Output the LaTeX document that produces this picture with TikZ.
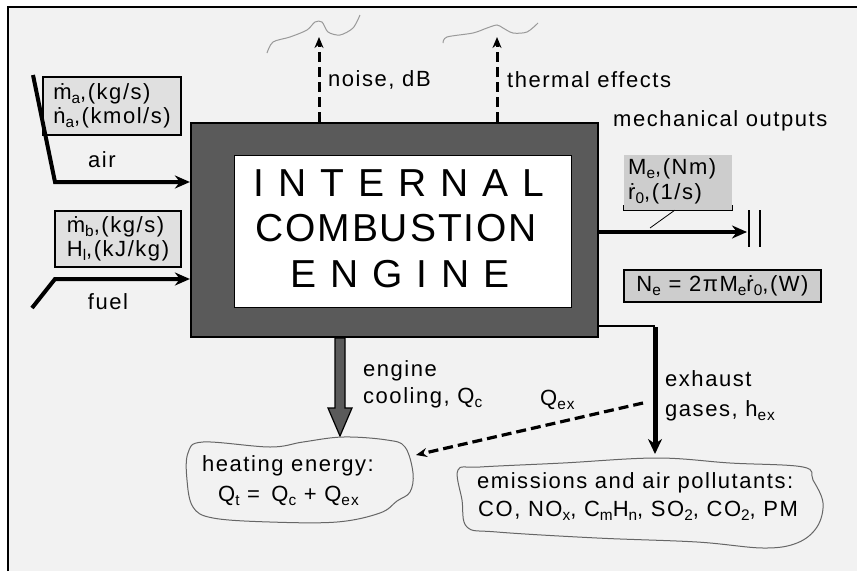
\documentclass[tikz,border=0pt]{standalone}
\usepackage{fontspec}
\setmainfont{Liberation Sans}
\newfontfamily\lblfont[LetterSpace=7]{Liberation Sans}
\newfontfamily\widefont[LetterSpace=36]{Liberation Sans}
\newfontfamily\midfont[LetterSpace=5]{Liberation Sans}
\usetikzlibrary{arrows.meta,calc}
\newcommand\dn[1]{\raisebox{-0.35ex}{\scalebox{0.7}{#1}}}
\definecolor{bggray}{HTML}{F2F2F2}
\definecolor{enggray}{HTML}{5A5A5A}
\definecolor{boxgray}{HTML}{E0E0E0}
\definecolor{shaftgray}{HTML}{CDCDCD}
\definecolor{wavegray}{HTML}{9A9A9A}
\tikzset{
  lbl/.style={font={\lblfont\fontsize{22}{25}\selectfont}, inner sep=0pt, anchor=west},
  bigtxt/.style={font={\widefont\fontsize{39}{40}\selectfont}, inner sep=0pt, anchor=west},
  midtxt/.style={font={\midfont\fontsize{39}{40}\selectfont}, inner sep=0pt, anchor=west},
  databox/.style={draw=black, line width=1.3pt, fill=boxgray, inner sep=0pt, align=left,
     font={\lblfont\fontsize{22}{24}\selectfont}},
  flow/.style={line width=4pt, -{Stealth[length=15pt,width=13pt]}},
  dflow/.style={line width=3pt, dash pattern=on 10pt off 5pt, -{Stealth[length=11pt,width=9pt]}},
  wave/.style={wavegray, line width=1pt},
  cloud/.style={draw=gray!80!black, line width=1pt, fill=bggray}
}
\begin{document}
\begin{tikzpicture}[x=1pt,y=-1pt]
\useasboundingbox (0,0) rectangle (857,571);
\fill[white] (0,0) rectangle (857,571);
\fill[bggray] (8,7) rectangle (857,571);
\draw[line width=2.6pt] (8,571) -- (8,7) -- (857,7);

% engine
\node[draw=black, line width=2.2pt, fill=enggray, minimum width=407pt, minimum height=214pt, inner sep=0pt] (engine) at (394.5,230) {};
\node[draw=black, line width=1pt, fill=white, minimum width=337pt, minimum height=152pt, inner sep=0pt] (core) at (402.5,231) {};
\node[bigtxt] (t1) at (253,183) {INTERNAL};
\node[midtxt] (t2) at (255,228) {COMBUSTION};
\node[bigtxt] (t3) at (290,274) {ENGINE};

% air input
\node[databox, minimum width=138pt, minimum height=58pt] (airbox) at (112,106)
  {ṁ\dn{a},(kg/s)\\ṅ\dn{a},(kmol/s)};
\coordinate (airS) at (33,75);
\coordinate (airC) at (55,182);
\draw[flow] (airS) -- (airC) -- (airC -| engine.west);
\node[lbl, anchor=center] (airlbl) at (102,160) {air};

% fuel input
\node[databox, minimum width=126pt, minimum height=56pt] (fuelbox) at (118,239)
  {ṁ\dn{b},(kg/s)\\H\dn{l},(kJ/kg)};
\coordinate (fuelS) at (32,308);
\coordinate (fuelC) at (55,279);
\draw[flow] (fuelS) -- (fuelC) -- (fuelC -| engine.west);
\node[lbl, anchor=center] (fuellbl) at (108,302) {fuel};

% noise and thermal effects
\coordinate (noiseTip) at (319,37);
\coordinate (thermTip) at (497,37);
\draw[dflow] (noiseTip |- engine.north) -- (noiseTip);
\draw[dflow] (thermTip |- engine.north) -- (thermTip);
\node[lbl] (noiselbl) at (328,80) {noise, dB};
\node[lbl] (thermlbl) at (507,80) {thermal effects};
\draw[wave] plot[smooth] coordinates {(267,53) (273,42) (290,37) (307,30) (315,22) (322,22) (328,32) (340,35) (353,28) (360,15)};
\draw[wave] plot[smooth] coordinates {(443,43) (447,37) (473,33) (487,28) (497,25) (503,28) (513,33) (527,32) (538,23)};

% mechanical outputs
\node[lbl] (mechlbl) at (613,121) {mechanical outputs};
\node[fill=shaftgray, minimum width=108pt, minimum height=55pt, inner sep=0pt] (mebox) at (678,182.5) {};
\node[lbl, align=left, font={\lblfont\fontsize{22}{25}\selectfont}, anchor=north west] (metxt) at (628,158)
  {M\dn{e},(Nm)\\ṙ\dn{0},(1/s)};
\draw[line width=1.2pt] (mebox.south west) ++(0,-5) -- (mebox.south west) -- (mebox.south east) -- ++(0,-5);
\coordinate (shaftEnd) at (747,232);
\draw[flow] (shaftEnd -| engine.east) -- (shaftEnd);
\draw[line width=0.8pt] ($(mebox.south west)!0.47!(mebox.south east)$) -- (650,228);
\coordinate (bar1) at (749,210);
\coordinate (bar2) at (760,210);
\draw[line width=1.6pt] (bar1) -- ++(0,37);
\draw[line width=1.6pt] (bar2) -- ++(0,37);
\node[draw=black, line width=1.3pt, fill=shaftgray, minimum width=197pt, minimum height=32pt, inner sep=0pt,
  font={\lblfont\fontsize{22}{25}\selectfont}] (nebox) at (722.5,286)
  {N\dn{e} = 2πM\dn{e}ṙ\dn{0},(W)};

% engine cooling
\draw[fill=enggray, line width=1.2pt] (335,338) -- (345,338) -- (345,408) -- (352,408) -- (340,436) -- (328,408) -- (335,408) -- cycle;
\node[lbl] (englbl) at (363,371) {engine};
\node[lbl] (coollbl) at (363,398) {cooling, Q\dn{c}};

% heating energy cloud
\draw[cloud] plot[smooth cycle, tension=0.6] coordinates {(188,453) (203,442) (270,447) (303,442) (343,437) (387,440) (405,447) (413,473) (410,492) (397,501) (380,513) (337,522) (270,522) (213,518) (193,507) (187,480)};
\node[lbl] (heat1) at (202,466) {heating energy:};
\node[lbl] (heat2) at (218,496) {Q\dn{t} =\, Q\dn{c} + Q\dn{ex}};
\coordinate (heatE) at (416,455);

% exhaust
\coordinate (exhC) at (655,326);
\coordinate (emisTop) at (655,454);
\draw[line width=2.5pt] (exhC -| engine.east) -- (exhC);
\draw[line width=5pt, -{Stealth[length=15pt,width=14pt]}] ([yshift=-1.2pt]exhC) -- (emisTop);
\node[lbl] (exh1) at (665,379) {exhaust};
\node[lbl] (exh2) at (665,411) {gases, h\dn{ex}};

% Q_ex dashed
\coordinate (qexS) at (643,403);
\draw[dflow, line width=3.2pt] (qexS) -- (heatE);
\node[lbl] (qexlbl) at (540,400) {Q\dn{ex}};

% emissions cloud
\draw[cloud] plot[smooth cycle, tension=0.6] coordinates {(458,470) (480,467) (563,463) (657,458) (730,463) (803,467) (813,480) (823,503) (817,527) (797,543) (763,548) (697,542) (597,538) (497,532) (467,527) (462,500)};
\node[lbl] (emis1) at (477,483) {emissions and air pollutants:};
\node[lbl] (emis2) at (478,511) {CO, NO\dn{x}, C\dn{m}H\dn{n}, SO\dn{2}, CO\dn{2}, PM};
\end{tikzpicture}
\end{document}
